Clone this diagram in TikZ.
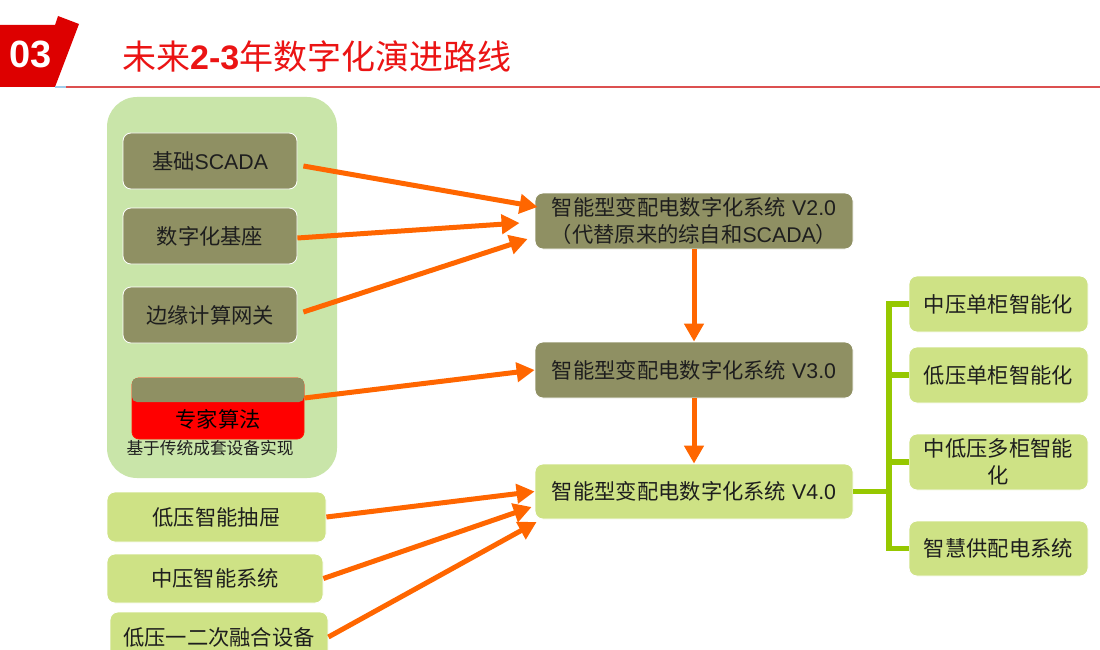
\documentclass[tikz,border=0pt]{standalone}
\usepackage{fontspec}
\setmainfont{Liberation Sans}
\newfontfamily\cjkfont{Noto Sans CJK SC}
\usetikzlibrary{arrows.meta,calc}
\newcommand\zhtxt[1]{{\cjkfont #1}}
\definecolor{olivebox}{RGB}{143,144,99}
\definecolor{limebox}{RGB}{206,226,133}
\definecolor{panelgreen}{RGB}{201,229,169}
\definecolor{orangearr}{RGB}{255,102,0}
\definecolor{bracketgreen}{RGB}{150,200,0}
\definecolor{textdark}{RGB}{30,30,30}
\definecolor{headred}{RGB}{221,0,0}
\definecolor{titlered}{RGB}{235,20,20}
\definecolor{linered}{RGB}{220,80,80}
\definecolor{lineblue}{RGB}{160,205,235}
\begin{document}
\begin{tikzpicture}[x=1pt,y=-1pt,
  basebox/.style={rounded corners=8pt, draw=white, line width=0.8pt, text=textdark,
    font=\fontsize{21.3}{27}\selectfont, align=center, inner sep=0pt},
  darkbox/.style={basebox, fill=olivebox},
  limenode/.style={basebox, fill=limebox},
  arr/.style={draw=orangearr, line width=5pt, -{Triangle[length=18pt,width=19pt]}},
  brk/.style={draw=bracketgreen, line width=5.5pt}]
\useasboundingbox (0,0) rectangle (1100,650);
\clip (0,0) rectangle (1100,650);
\fill[white] (0,0) rectangle (1100,650);
% header
\fill[headred] (0,25) -- (55,25) -- (58,16) -- (79,24) -- (55,87) -- (0,87) -- cycle;
\node[text=white, font=\bfseries\fontsize{38}{40}\selectfont, inner sep=0] (num) at (31,54) {03};
\draw[lineblue, line width=2pt] (55,87) -- (66,87);
\draw[linered, line width=2pt] (66,87) -- (1100,87);
\node[anchor=west, inner sep=0, text=titlered, font=\fontsize{34}{36}\selectfont] (title) at (122,57)
  {\zhtxt{未来}\textbf{2-3}\zhtxt{年数字化演进路线}};
% left panel
\node[fill=panelgreen, rounded corners=30pt, minimum width=230pt, minimum height=381pt, inner sep=0] (panel) at (222,287.5) {};
\node[darkbox, minimum width=174pt, minimum height=56pt] (scada) at (210,161) {\zhtxt{基础}SCADA};
\node[darkbox, minimum width=174pt, minimum height=56pt] (base) at (210,236) {\zhtxt{数字化基座}};
\node[darkbox, minimum width=174pt, minimum height=56pt] (edge) at (210,315) {\zhtxt{边缘计算网关}};
\node[fill=red, draw=red!80!orange, line width=0.8pt, rounded corners=7pt, minimum width=172pt, minimum height=61pt, inner sep=0] (expert) at (218,408.5) {};
\node[fill=olivebox, rounded corners=5pt, minimum width=172pt, minimum height=24pt, inner sep=0] (expertcap) at (218,390) {};
\node[inner sep=0, text=black, font=\fontsize{21.3}{27}\selectfont] (experttxt) at (218,419) {\zhtxt{专家算法}};
\node[inner sep=0, text=textdark, font=\fontsize{16.7}{20}\selectfont] (caption) at (210,448) {\zhtxt{基于传统成套设备实现}};
% middle column
\node[darkbox, minimum width=318pt, minimum height=56pt] (v2) at (694,221)
  {\zhtxt{智能型变配电数字化系统} V2.0\\\zhtxt{（代替原来的综自和}SCADA\zhtxt{）}};
\node[darkbox, minimum width=318pt, minimum height=56pt] (v3) at (694,370)
  {\zhtxt{智能型变配电数字化系统} V3.0};
\node[limenode, minimum width=318pt, minimum height=55pt] (v4) at (694,491.5)
  {\zhtxt{智能型变配电数字化系统} V4.0};
% right column
\node[limenode, minimum width=179pt, minimum height=56pt] (r1) at (998.5,304) {\zhtxt{中压单柜智能化}};
\node[limenode, minimum width=179pt, minimum height=56pt] (r2) at (998.5,375) {\zhtxt{低压单柜智能化}};
\node[limenode, minimum width=179pt, minimum height=56pt] (r3) at (998.5,462) {\zhtxt{中低压多柜智能}\\\zhtxt{化}};
\node[limenode, minimum width=179pt, minimum height=55pt] (r4) at (998.5,548.5) {\zhtxt{智慧供配电系统}};
% bottom left
\node[limenode, minimum width=219pt, minimum height=50pt] (b1) at (216.5,517) {\zhtxt{低压智能抽屉}};
\node[limenode, minimum width=216pt, minimum height=49pt] (b2) at (215,578.5) {\zhtxt{中压智能系统}};
\node[limenode, minimum width=218pt, minimum height=50pt] (b3) at (219,637) {\zhtxt{低压一二次融合设备}};
% orange arrows
\draw[arr] ([xshift=6pt,yshift=-5pt]scada.east) -- ([xshift=3pt,yshift=14pt]v2.west);
\draw[arr] ([yshift=-2pt]base.east) -- ([xshift=-15pt,yshift=-2pt]v2.west);
\draw[arr] ([xshift=6pt,yshift=3pt]edge.east) -- ([xshift=-7pt,yshift=-18pt]v2.west);
\draw[arr] ([yshift=10.5pt]expert.east) -- (v3.west);
\draw[arr] (v2.south) -- (v3.north);
\draw[arr] (v3.south) -- (v4.north);
\draw[arr] (b1.east) -- (v4.west);
\draw[arr] (b2.east) -- ([xshift=-3pt,yshift=-15.5pt]v4.west);
\draw[arr] (b3.east) -- ([xshift=2pt,yshift=-30.5pt]v4.west);
% green bracket
\coordinate (bar) at (889,0);
\draw[brk] (r1.west) -- (r1.west -| bar) -- (r4.west -| bar) -- (r4.west);
\draw[brk] (r2.west) -- (r2.west -| bar);
\draw[brk] (r3.west) -- (r3.west -| bar);
\draw[brk] (v4.east) -- (v4.east -| bar);
\end{tikzpicture}
\end{document}
